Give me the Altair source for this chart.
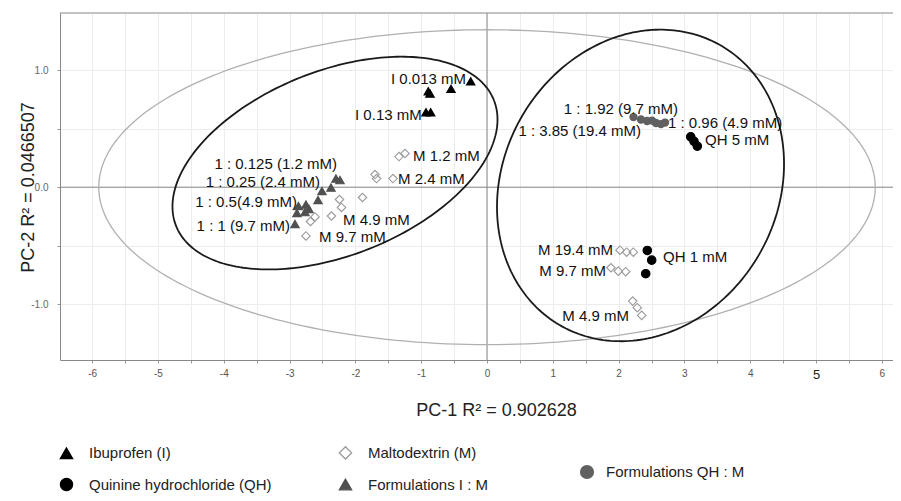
import altair as alt
import numpy as np
import pandas as pd

# ---------------- data ----------------
ibu_x = [-0.892, -0.866, -0.547, -0.248, -0.927, -0.856]
ibu_y = [0.819, 0.800, 0.840, 0.904, 0.640, 0.640]

form_i_x = [-2.295, -2.234, -2.508, -2.371, -2.568, -2.865, -2.751, -2.888, -2.766, -2.705, -2.918]
form_i_y = [0.074, 0.061, -0.032, -0.003, -0.109, -0.160, -0.148, -0.220, -0.212, -0.186, -0.314]

malto_x = [-1.337, -1.246, -1.702, -1.679, -1.429, -1.892, -2.242, -2.211, -2.363, -2.614, -2.682, -2.751,
           2.021, 2.123, 2.223, 1.884, 1.995, 2.108, 2.214, 2.284, 2.351]
malto_y = [0.262, 0.288, 0.108, 0.074, 0.074, -0.088, -0.105, -0.173, -0.246, -0.254, -0.293, -0.416,
           -0.538, -0.555, -0.555, -0.688, -0.717, -0.722, -0.973, -1.029, -1.095]

qh_x = [3.096, 3.146, 3.196, 2.436, 2.503, 2.412]
qh_y = [0.430, 0.392, 0.350, -0.540, -0.623, -0.739]

form_qh_x = [2.226, 2.340, 2.432, 2.508, 2.568, 2.644, 2.705]
form_qh_y = [0.599, 0.578, 0.565, 0.569, 0.548, 0.539, 0.552]

# legend order (entries fill column by column)
series_main = ["Ibuprofen (I)", "Quinine hydrochloride (QH)", "Maltodextrin (M)", "Formulations I : M"]
series_qhm = ["Formulations QH : M"]

# labels anchored at their left end
left_labels = ["M 1.2 mM", "M 2.4 mM", "M 4.9 mM", "M 9.7 mM", "1 : 0.96 (4.9 mM)", "QH 5 mM", "QH 1 mM"]
left_x = [-1.125, -1.353, -2.188, -2.553, 2.751, 3.313, 2.675]
left_y = [0.270, 0.074, -0.282, -0.429, 0.549, 0.407, -0.600]

# labels anchored at their right end
right_labels = ["I 0.013 mM", "I 0.13 mM", "1 : 0.125 (1.2 mM)", "1 : 0.25 (2.4 mM)", "1 : 0.5(4.9 mM)",
                "1 : 1 (9.7 mM)", "1 : 1.92 (9.7 mM)", "1 : 3.85 (19.4 mM)", "M 19.4 mM", "M 9.7 mM", "M 4.9 mM"]
right_x = [-0.319, -0.992, -2.280, -2.538, -2.888, -2.994, 2.903, 2.340, 1.915, 1.809, 2.158]
right_y = [0.925, 0.620, 0.194, 0.043, -0.128, -0.333, 0.672, 0.484, -0.538, -0.717, -1.103]

# ellipses: centre and two conjugate semi-axis vectors (data units)
ellipse_names = ["T2", "left", "right"]
ellipse_cx = [0.0, -2.310, 2.333]
ellipse_cy = [0.0, 0.206, 0.015]
ellipse_u = [(5.90, 0.0), (2.415, 0.537), (2.181, 0.184)]
ellipse_v = [(0.0, 1.345), (-0.517, 0.733), (0.0, 1.318)]

x_tick_values = [-6.5, -6, -5.5, -5, -4.5, -4, -3.5, -3, -2.5, -2, -1.5, -1, -0.5, 0,
                 0.5, 1, 1.5, 2, 2.5, 3, 3.5, 4, 4.5, 5, 5.5, 6]
y_tick_values = [-1.0, -0.5, 0.0, 0.5, 1.0]

X_DOMAIN = [-6.489, 6.170]
Y_DOMAIN = [-1.476, 1.488]
W, H = 833, 347
FONT = "Liberation Sans, Arial, sans-serif"

# ---------------- frames ----------------
pts = pd.DataFrame({
    "x": ibu_x + malto_x + qh_x + form_i_x,
    "y": ibu_y + malto_y + qh_y + form_i_y,
    "series": ["Ibuprofen (I)"] * len(ibu_x) + ["Maltodextrin (M)"] * len(malto_x)
              + ["Quinine hydrochloride (QH)"] * len(qh_x) + ["Formulations I : M"] * len(form_i_x),
})
pts_qhm = pd.DataFrame({"x": form_qh_x, "y": form_qh_y, "grp": series_qhm * len(form_qh_x)})

t = np.linspace(0, 2 * np.pi, 241)
rows = []
for n, cx, cy, u, v in zip(ellipse_names, ellipse_cx, ellipse_cy, ellipse_u, ellipse_v):
    for i, tt in enumerate(t):
        rows.append({"name": n, "i": i,
                     "x": cx + u[0] * np.cos(tt) + v[0] * np.sin(tt),
                     "y": cy + u[1] * np.cos(tt) + v[1] * np.sin(tt)})
ell = pd.DataFrame(rows)

lab_l = pd.DataFrame({"t": left_labels, "x": left_x, "y": left_y})
lab_r = pd.DataFrame({"t": right_labels, "x": right_x, "y": right_y})
zero = pd.DataFrame({"v": [0.0]})

# ---------------- scales / axes ----------------
xscale = alt.Scale(domain=X_DOMAIN, nice=False, zero=False)
yscale = alt.Scale(domain=Y_DOMAIN, nice=False, zero=False)

xaxis = alt.Axis(
    values=x_tick_values,
    labelExpr="datum.value % 1 == 0 ? '' + datum.value : ''",
    title="PC-1 R\u00b2 = 0.902628",
    titleX=436, titleY=50, titleBaseline="middle", titleAlign="center",
    labelFontSize={"condition": {"test": "datum.value == 5", "value": 13}, "value": 10},
    labelColor={"condition": {"test": "datum.value == 5", "value": "#222222"}, "value": "#555555"},
    labelPadding=5,
)
yaxis = alt.Axis(
    values=y_tick_values,
    labelExpr="datum.value % 1 == 0 ? ((datum.value < 0 ? '-' : '') + abs(datum.value) + '.0') : ''",
    title="PC-2 R\u00b2 = 0.0466507",
    titleX=-32, titleY=174, titleBaseline="middle", titleAlign="center", titleAngle=270,
    labelFontSize=10, labelColor="#666666", labelPadding=9,
)


def X(field="x"):
    return alt.X(f"{field}:Q", scale=xscale, axis=xaxis)


def Y(field="y"):
    return alt.Y(f"{field}:Q", scale=yscale, axis=yaxis)


# ---------------- layers ----------------
vz = alt.Chart(zero).mark_rule(color="#888888", strokeWidth=1).encode(x=X("v"))
hz = alt.Chart(zero).mark_rule(color="#888888", strokeWidth=1).encode(y=Y("v"))
top_line = alt.Chart(zero).mark_rule(color="#888888", strokeWidth=1).encode(
    y=alt.value(0), x=alt.value(0), x2=alt.value(W))

ell_grey = alt.Chart(ell[ell.name == "T2"]).mark_line(color="#b0b0b0", strokeWidth=1.3).encode(
    x=X(), y=Y(), order="i:Q")
ell_black = alt.Chart(ell[ell.name != "T2"]).mark_line(color="#1a1a1a", strokeWidth=1.8).encode(
    x=X(), y=Y(), order="i:Q", detail="name:N")

legend_main = alt.Legend(
    title=None, orient="none", legendX=-1, legendY=432, columns=2, columnPadding=64,
    rowPadding=13, symbolSize=150, symbolStrokeWidth=1.3, labelFont=FONT, labelFontSize=15,
    labelColor="#222222", labelOffset=15, padding=0, labelLimit=400,
)
legend_qhm = alt.Legend(
    title=None, orient="none", legendX=519, legendY=451, symbolSize=200, symbolType="circle",
    symbolFillColor="#606060", symbolStrokeColor="#606060", symbolOpacity=1,
    labelFont=FONT, labelFontSize=15, labelColor="#222222", labelOffset=11, padding=0, labelLimit=400,
)

# ranges follow series_main order: Ibuprofen, Quinine, Maltodextrin, Formulations I:M
points_main = alt.Chart(pts).mark_point(filled=True, opacity=1, strokeWidth=1.1, size=72).encode(
    x=X(), y=Y(),
    shape=alt.Shape("series:N", title=None, legend=legend_main,
                    scale=alt.Scale(domain=series_main,
                                    range=["triangle-up", "circle", "diamond", "triangle-up"])),
    fill=alt.Fill("series:N", title=None, legend=legend_main,
                  scale=alt.Scale(domain=series_main,
                                  range=["#000000", "#000000", "transparent", "#505050"])),
    stroke=alt.Stroke("series:N", title=None, legend=legend_main,
                      scale=alt.Scale(domain=series_main,
                                      range=["#000000", "#000000", "#9a9a9a", "#505050"])),
)

points_qhm = alt.Chart(pts_qhm).mark_point(
    filled=True, shape="circle", color="#606060", size=70
).encode(
    x=X(), y=Y(),
    opacity=alt.Opacity("grp:N", title=None, legend=legend_qhm,
                        scale=alt.Scale(domain=series_qhm, range=[1])),
)

txt_l = alt.Chart(lab_l).mark_text(font=FONT, fontSize=15, color="#111111", align="left",
                                   baseline="middle").encode(x=X(), y=Y(), text="t:N")
txt_r = alt.Chart(lab_r).mark_text(font=FONT, fontSize=15, color="#111111", align="right",
                                   baseline="middle").encode(x=X(), y=Y(), text="t:N")

chart = alt.layer(
    vz, hz, top_line, ell_grey, ell_black, points_main, points_qhm, txt_l, txt_r
).properties(
    width=W, height=H,
    autosize=alt.AutoSizeParams(type="none"),
    padding={"left": 52, "top": 5, "right": 0, "bottom": 133},
    background="white",
).configure_view(stroke=None).configure_axis(
    grid=True, gridColor="#ececec", gridWidth=1,
    domainColor="#888888", domainWidth=1,
    tickColor="#999999", tickSize=3, tickWidth=1,
    labelFont=FONT, titleFont=FONT, titleFontSize=18, titleFontWeight="normal", titleColor="#222222",
)

chart.save("out.html", embed_options={"renderer": "svg", "actions": False})
